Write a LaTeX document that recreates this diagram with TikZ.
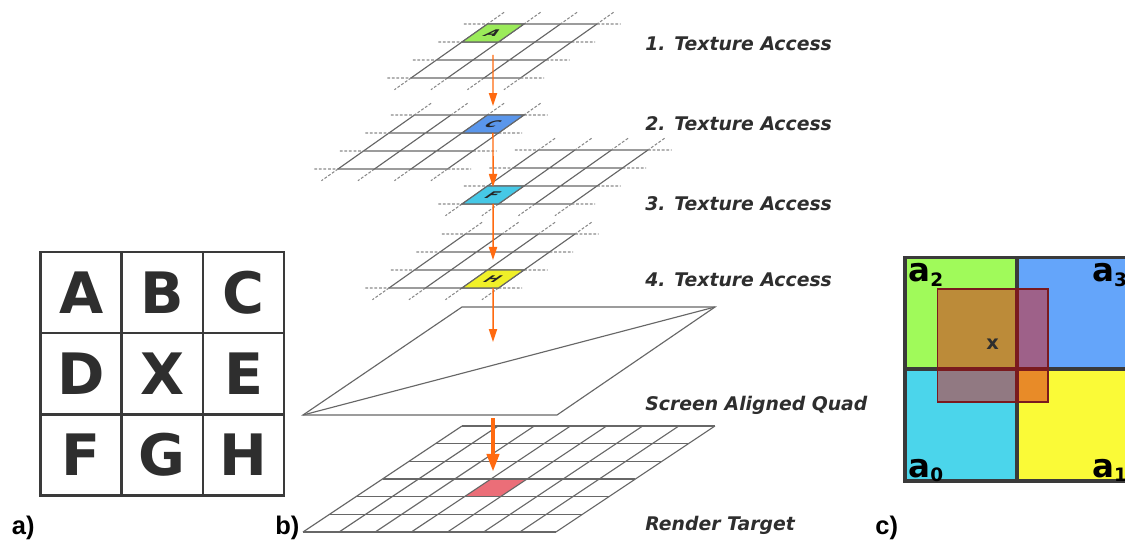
\documentclass[tikz,border=0pt]{standalone}
\usepackage{fontspec}
\setmainfont{DejaVu Sans}
\newfontfamily\panelfont{Liberation Sans}
\usepackage{xcolor}
\usetikzlibrary{arrows.meta,calc}

\definecolor{gridgray}{HTML}{676767}
\definecolor{dashgray}{HTML}{8A8A8A}
\definecolor{boxgray}{HTML}{3A3A3A}
\definecolor{textgray}{HTML}{2E2E2E}
\definecolor{flow}{HTML}{FF6A10}
\definecolor{cellgreen}{HTML}{9BEB5A}
\definecolor{cellblue}{HTML}{5A96EB}
\definecolor{cellcyan}{HTML}{46C8E6}
\definecolor{cellyellow}{HTML}{F0F028}
\definecolor{cellred}{HTML}{EB6E78}
\definecolor{quadgreen}{HTML}{A0FA5A}
\definecolor{quadblue}{HTML}{64A5FA}
\definecolor{quadcyan}{HTML}{4BD5EB}
\definecolor{quadyellow}{HTML}{FAFA37}
\definecolor{footred}{RGB}{216,30,26}
\definecolor{footedge}{HTML}{7A1A1E}

\begin{document}
\begin{tikzpicture}[
    x=0.02cm, y=-0.02cm,
    gridline/.style={draw=gridgray, line width=0.65pt},
    griddash/.style={draw=dashgray, line width=0.6pt, dash pattern=on 1.6pt off 1pt},
    cellmark/.style={font=\bfseries\fontsize{9.5}{9.5}\selectfont, text=black!85, inner sep=0pt, xslant=1.4, yscale=0.55},
    keycell/.style={rectangle, draw=boxgray, line width=1.4pt, minimum width=1.624cm, minimum height=1.624cm, font=\bfseries\fontsize{32.5}{34}\selectfont, text=textgray, inner sep=0pt},
    steplabel/.style={anchor=base west, font=\bfseries\itshape\fontsize{10.7}{12}\selectfont, text=textgray, inner sep=0pt},
    panel/.style={anchor=base west, font=\panelfont\bfseries\fontsize{14.5}{16}\selectfont, inner sep=0pt},
    quadname/.style={anchor=base west, font=\bfseries\fontsize{18.5}{20}\selectfont, inner sep=0pt},
    footprint/.style={draw=footedge, line width=1.1pt, fill=footred, fill opacity=0.5},
    flow/.style={draw=flow, line width=0.85pt, -{Triangle[length=7.4pt, width=4.6pt]}},
    bigflow/.style={draw=flow, line width=2.4pt, -{Triangle[length=10.2pt, width=6.8pt]}}
]
\useasboundingbox (0,0) rectangle (1125,541);
\clip (0,0) rectangle (1125,541);

% a) 3x3 neighbourhood
\foreach \lt [count=\n from 0] in {A,B,C,D,X,E,F,G,H} {
    \pgfmathtruncatemacro{\cc}{mod(\n,3)}
    \pgfmathtruncatemacro{\rr}{int(\n/3)}
    \node[keycell] (key\lt) at (81.1+81.2*\cc, 292.6+81.2*\rr) {\lt};
}

% b) texture layers
\foreach \ox/\oy/\ci/\cj/\fc/\lt in {487.5/24/0/0/cellgreen/A, 414.5/115/2/0/cellblue/C, 538.5/150/0/2/cellcyan/F, 465.5/234/2/2/cellyellow/H} {
    \begin{scope}[shift={(\ox,\oy)}, x={(0.73cm,0cm)}, y={(-0.51cm,-0.36cm)}]
        \foreach \k in {0,...,3} {
            \draw[gridline] (0,\k) -- (3,\k) (\k,0) -- (\k,3);
            \draw[griddash] (-0.65,\k) -- (0,\k) (3,\k) -- (3.65,\k)
                (\k,-0.65) -- (\k,0) (\k,3) -- (\k,3.65);
        }
        \draw[gridline, fill=\fc] (\ci,\cj) -- ++(1,0) -- ++(0,1) -- ++(-1,0) -- cycle;
        \node[cellmark] (cell\lt) at (\ci+0.5,\cj+0.5) {\lt};
    \end{scope}
}

% Screen aligned quad
\draw[gridline] (303,415) -- (557,415) -- (715,307) -- (462,307) -- cycle;
\draw[gridline] (303,415) -- (715,307);
\coordinate (quadin) at (493,342);
\coordinate (quadout) at (493,418);

% Render target
\begin{scope}[shift={(462,426)}, x={(0.7228cm,0cm)}, y={(-0.53cm,-0.3533cm)}]
    \fill[cellred] (3,3) -- ++(1,0) -- ++(0,1) -- ++(-1,0) -- cycle;
    \coordinate (cellR) at (3.5,3.5);
    \foreach \k in {0,...,7} \draw[gridline] (\k,0) -- (\k,6);
    \foreach \k in {0,...,6} \draw[gridline] (0,\k) -- (7,\k);
\end{scope}

% Arrows
\draw[flow, shorten <=0.44cm, shorten >=0.36cm] (cellA.center) -- (cellC.center);
\draw[flow, shorten <=0.18cm, shorten >=0.16cm] (cellC.center) -- (cellF.center);
\draw[flow, shorten <=0.18cm, shorten >=0.38cm] (cellF.center) -- (cellH.center);
\draw[flow, shorten <=0.18cm] (cellH.center) -- (quadin);
\draw[bigflow, shorten >=0.32cm] (quadout) -- (quadout |- cellR);

% Step labels
\node[steplabel] (acc1) at (645,50.7) {1. Texture Access};
\node[steplabel] (acc2) at (645,130) {2. Texture Access};
\node[steplabel] (acc3) at (645,210.7) {3. Texture Access};
\node[steplabel] (acc4) at (645,286.7) {4. Texture Access};
\node[steplabel] (quadlab) at (645,410) {Screen Aligned Quad};
\node[steplabel] (rtlab) at (645,530) {Render Target};

% c) bilinear footprint
\fill[quadgreen] (905,257.5) rectangle (1017,369);
\fill[quadblue] (1017,257.5) rectangle (1129,369);
\fill[quadcyan] (905,369) rectangle (1017,481);
\fill[quadyellow] (1017,369) rectangle (1129,481);
\draw[boxgray, line width=2.2pt] (905,257.5) rectangle (1129,481);
\draw[boxgray, line width=2pt] (1017,257.5) -- (1017,481) (905,369) -- (1129,369);
\draw[footprint] (937.5,289) rectangle (1048,402);
\draw[footedge, line width=2pt] (1017,289) -- (1017,402) (937.5,369) -- (1048,369);
\node[font=\bfseries\fontsize{11}{11}\selectfont, text=textgray] (sample) at (992.7,344) {x};
\node[quadname] (texa2) at (908,281.7) {a\raisebox{-2.8pt}{\fontsize{10.5}{10.5}\selectfont 2}};
\node[quadname] (texa3) at (1091.7,281.7) {a\raisebox{-2.8pt}{\fontsize{10.5}{10.5}\selectfont 3}};
\node[quadname] (texa0) at (908,477) {a\raisebox{-2.8pt}{\fontsize{10.5}{10.5}\selectfont 0}};
\node[quadname] (texa1) at (1091.7,477) {a\raisebox{-2.8pt}{\fontsize{10.5}{10.5}\selectfont 1}};

% Panel labels
\node[panel] (pa) at (11.5,534) {a)};
\node[panel] (pb) at (275,534) {b)};
\node[panel] (pc) at (875,534) {c)};

\end{tikzpicture}
\end{document}
